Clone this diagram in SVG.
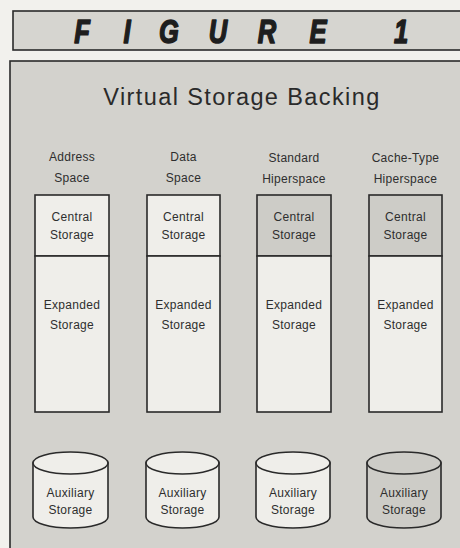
<svg xmlns="http://www.w3.org/2000/svg" width="460" height="548" viewBox="0 0 460 548">
<style>
.page{fill:#f2f1ed}
.frame{fill:#d3d2cd;stroke:#2a2a2a;stroke-width:1.6}
.ban{fill:#d6d5d0;stroke:#2a2a2a;stroke-width:1.6}
.big{font-family:"Liberation Sans",Arial,sans-serif;font-weight:bold;font-style:italic;font-size:34px;fill:#1e1e1e;stroke:#1e1e1e;stroke-width:1.6;stroke-linejoin:round;text-anchor:middle}
.title{font-family:"Liberation Sans",Arial,sans-serif;font-size:23.5px;fill:#2a2a2a;text-anchor:middle;letter-spacing:1.4px}
.lbl{font-family:"Liberation Sans",Arial,sans-serif;font-size:12px;fill:#2e2e2e;text-anchor:middle;letter-spacing:0.3px}
.light{fill:#efeeea;stroke:#2a2a2a;stroke-width:1.6}
.dark{fill:#cdccc7;stroke:#2a2a2a;stroke-width:1.6}
</style>
<rect class="page" x="0" y="0" width="460" height="548"/>
<g id="banner">
<rect class="ban" x="13" y="11" width="460" height="39"/>
<text class="big" transform="translate(82,43) scale(0.75,1)">F</text>
<text class="big" transform="translate(127,43) scale(0.75,1)">I</text>
<text class="big" transform="translate(169,43) scale(0.75,1)">G</text>
<text class="big" transform="translate(218,43) scale(0.75,1)">U</text>
<text class="big" transform="translate(267,43) scale(0.75,1)">R</text>
<text class="big" transform="translate(318,43) scale(0.75,1)">E</text>
<text class="big" transform="translate(401,43) scale(0.75,1)">1</text>
</g>
<rect class="frame" x="10" y="61" width="470" height="500"/>
<text class="title" x="242" y="105">Virtual Storage Backing</text>

<g id="address-space">
<text class="lbl" x="72" y="161">Address</text>
<text class="lbl" x="72" y="182">Space</text>
<rect class="light" x="35" y="195" width="74" height="61"/>
<rect class="light" x="35" y="256" width="74" height="156"/>
<text class="lbl" x="72" y="221">Central</text>
<text class="lbl" x="72" y="239">Storage</text>
<text class="lbl" x="72" y="309">Expanded</text>
<text class="lbl" x="72" y="329">Storage</text>
</g>
<g id="data-space">
<text class="lbl" x="183.5" y="161">Data</text>
<text class="lbl" x="183.5" y="182">Space</text>
<rect class="light" x="147" y="195" width="73" height="61"/>
<rect class="light" x="147" y="256" width="73" height="156"/>
<text class="lbl" x="183.5" y="221">Central</text>
<text class="lbl" x="183.5" y="239">Storage</text>
<text class="lbl" x="183.5" y="309">Expanded</text>
<text class="lbl" x="183.5" y="329">Storage</text>
</g>
<g id="standard-hiperspace">
<text class="lbl" x="294" y="161.5">Standard</text>
<text class="lbl" x="294" y="182.5">Hiperspace</text>
<rect class="dark" x="257" y="195" width="74" height="61"/>
<rect class="light" x="257" y="256" width="74" height="156"/>
<text class="lbl" x="294" y="221">Central</text>
<text class="lbl" x="294" y="239">Storage</text>
<text class="lbl" x="294" y="309">Expanded</text>
<text class="lbl" x="294" y="329">Storage</text>
</g>
<g id="cache-type-hiperspace">
<text class="lbl" x="405.5" y="161.5">Cache-Type</text>
<text class="lbl" x="405.5" y="182.5">Hiperspace</text>
<rect class="dark" x="369" y="195" width="73" height="61"/>
<rect class="light" x="369" y="256" width="73" height="156"/>
<text class="lbl" x="405.5" y="221">Central</text>
<text class="lbl" x="405.5" y="239">Storage</text>
<text class="lbl" x="405.5" y="309">Expanded</text>
<text class="lbl" x="405.5" y="329">Storage</text>
</g>

<g id="aux-1">
<path class="light" d="M33,463 L33,517 A37.5,11 0 0 0 108,517 L108,463 Z"/>
<ellipse class="light" cx="70.5" cy="463" rx="37.5" ry="11"/>
<text class="lbl" x="70.5" y="497">Auxiliary</text>
<text class="lbl" x="70.5" y="514">Storage</text>
</g>
<g id="aux-2">
<path class="light" d="M146,463 L146,517 A36.5,11 0 0 0 219,517 L219,463 Z"/>
<ellipse class="light" cx="182.5" cy="463" rx="36.5" ry="11"/>
<text class="lbl" x="182.5" y="497">Auxiliary</text>
<text class="lbl" x="182.5" y="514">Storage</text>
</g>
<g id="aux-3">
<path class="light" d="M256,463 L256,517 A37,11 0 0 0 330,517 L330,463 Z"/>
<ellipse class="light" cx="293" cy="463" rx="37" ry="11"/>
<text class="lbl" x="293" y="497">Auxiliary</text>
<text class="lbl" x="293" y="514">Storage</text>
</g>
<g id="aux-4">
<path class="dark" d="M367,463 L367,517 A37,11 0 0 0 441,517 L441,463 Z"/>
<ellipse class="dark" cx="404" cy="463" rx="37" ry="11"/>
<text class="lbl" x="404" y="497">Auxiliary</text>
<text class="lbl" x="404" y="514">Storage</text>
</g>
<g id="connectors"></g>
</svg>
